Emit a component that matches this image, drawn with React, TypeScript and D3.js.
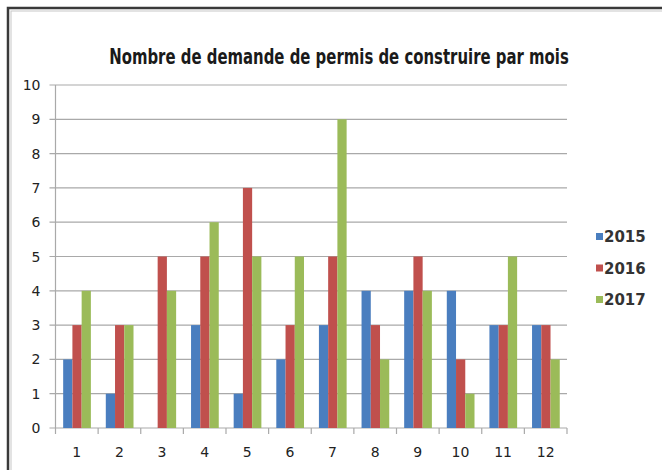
import React from 'react';
import * as d3 from 'd3';

const months = ['1', '2', '3', '4', '5', '6', '7', '8', '9', '10', '11', '12'];
const seriesNames = ['2015', '2016', '2017'];
const values2015 = [2, 1, 0, 3, 1, 2, 3, 4, 4, 4, 3, 3];
const values2016 = [3, 3, 5, 5, 7, 3, 5, 3, 5, 2, 3, 3];
const values2017 = [4, 3, 4, 6, 5, 5, 9, 2, 4, 1, 5, 2];
const yTicks = [0, 1, 2, 3, 4, 5, 6, 7, 8, 9, 10];
const colors = ['#4a7ebf', '#c0504d', '#9bbb59'];

const W = 662;
const H = 470;
const margin = { top: 85, right: 95, bottom: 42, left: 55.5 };

const App = () => {
  const allValues = [values2015, values2016, values2017];
  const plotW = W - margin.left - margin.right;
  const plotH = H - margin.top - margin.bottom;

  const x = d3.scaleBand().domain(months).range([0, plotW]).paddingInner(0).paddingOuter(0);
  const inner = d3.scaleBand()
    .domain(seriesNames)
    .range([x.bandwidth() * 0.18, x.bandwidth() * 0.83]);
  const y = d3.scaleLinear().domain([0, 10]).range([plotH, 0]);

  const boundaries = d3.range(months.length + 1).map(i => i * x.step());

  return (
    <svg width={W} height={H} style={{ position: 'absolute', left: 0, top: 0, background: '#fff' }}>
      <rect x={0} y={0} width={W} height={H} fill="#fff" />
      {/* cadre */}
      <rect x={8} y={8} width={W + 20} height={H + 20} fill="none" stroke="#3a3a3a" strokeWidth={2.5} />
      <rect x={11} y={11} width={W + 20} height={H + 20} fill="none" stroke="#c8c8c8" strokeWidth={1} />

      {/* titre étroit : police compressée horizontalement */}
      <g transform="translate(339,64) scale(0.71,1)">
        <text
          x={0}
          y={0}
          textAnchor="middle"
          fontFamily="'DejaVu Sans', sans-serif"
          fontWeight="bold"
          fontSize={21}
          fill="#1a1a1a"
        >
          Nombre de demande de permis de construire par mois
        </text>
      </g>

      <g transform={`translate(${margin.left},${margin.top})`}>
        {yTicks.map(t => (
          <g key={t}>
            <line x1={-6} x2={plotW} y1={y(t)} y2={y(t)} stroke="#a9a9a9" strokeWidth={1.2} />
            <text
              x={-15}
              y={y(t)}
              dy="0.36em"
              textAnchor="end"
              fontFamily="'DejaVu Sans', sans-serif"
              fontSize={14}
              fill="#222"
            >
              {t}
            </text>
          </g>
        ))}
        <line x1={0} x2={0} y1={0} y2={plotH} stroke="#a9a9a9" strokeWidth={1.2} />

        {months.map((m, i) => (
          <g key={m} transform={`translate(${x(m)},0)`}>
            {seriesNames.map((s, j) => (
              <rect
                key={s}
                x={inner(s)}
                y={y(allValues[j][i])}
                width={inner.bandwidth()}
                height={plotH - y(allValues[j][i])}
                fill={colors[j]}
              />
            ))}
            <text
              x={x.bandwidth() / 2}
              y={plotH + 29}
              textAnchor="middle"
              fontFamily="'DejaVu Sans', sans-serif"
              fontSize={14}
              fill="#222"
            >
              {m}
            </text>
          </g>
        ))}
        {boundaries.map((b, i) => (
          <line key={i} x1={b} x2={b} y1={plotH} y2={plotH + 6} stroke="#a9a9a9" strokeWidth={1.2} />
        ))}
      </g>

      <g transform="translate(596,237)">
        {seriesNames.map((s, j) => (
          <g key={s} transform={`translate(0,${j * 31.5})`}>
            <rect x={0} y={-4} width={7} height={7} fill={colors[j]} />
            <text
              x={8}
              y={0}
              dy="0.36em"
              fontFamily="'DejaVu Sans', sans-serif"
              fontWeight="bold"
              fontSize={15}
              fill="#333"
            >
              {s}
            </text>
          </g>
        ))}
      </g>
    </svg>
  );
};

export default App;
